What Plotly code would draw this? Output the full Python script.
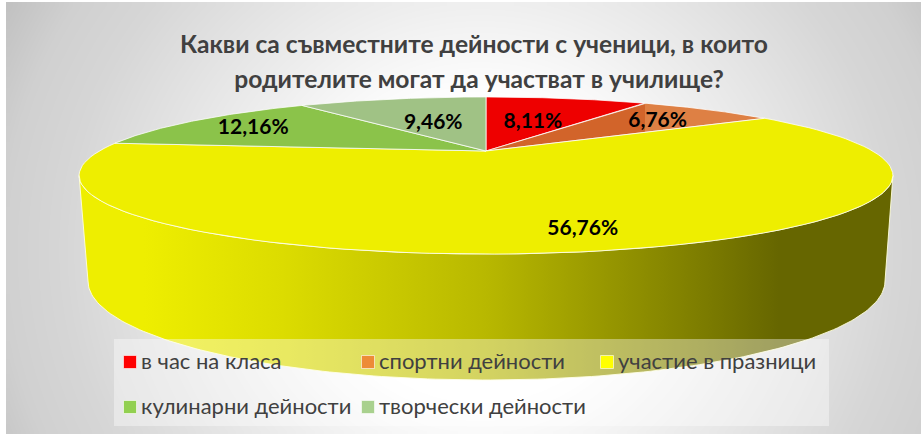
import numpy as np
import plotly.graph_objects as go

categories = ["в час на класа", "спортни дейности", "участие в празници", "кулинарни дейности", "творчески дейности"]
values = [8.11, 6.76, 56.76, 12.16, 9.46]
labels = ["8,11%", "6,76%", "56,76%", "12,16%", "9,46%"]
title_lines = ["Какви са съвместните дейности с ученици, в които", "родителите могат да участват в училище?"]

slice_colors = ["#EE0000", "#D2642A", "#EEEE00", "#8BC34A", "#A0C285"]
swatch_colors = ["#FF0000", "#ED8B37", "#FFFF00", "#92D050", "#A9D18E"]
label_radii = [0.52, 0.74, 0.83, 0.78, 0.5]

W, H = 921, 436
CX, CY, A, B, K = 486.0, 151.0, 386.6, 70.9, 0.312
FONT = "Lato, 'Noto Sans', sans-serif"


def project(theta, r=1.0):
    d = 1 + K * r * np.cos(theta)
    return CX + A * r * np.sin(theta) / d, CY - B * r * np.cos(theta) / d


fig = go.Figure()


def poly(x, y, **kw):
    fig.add_trace(go.Scatter(x=x, y=y, mode="lines", fill="toself", showlegend=False,
                             hoverinfo="skip", **kw))


# background panel (soft light centre falling to grey at the sides)
gx = np.arange(9, W + 1, 6.0)
gy = np.arange(5, H + 1, 6.0)
XX, YY = np.meshgrid(gx, gy)
dist = np.sqrt(((XX - 480) / 520) ** 2 + ((YY - 250) / 500) ** 2)
shade = np.interp(dist, [0, 0.3, 0.5, 0.8, 0.92, 1.05], [255, 255, 238, 214, 208, 191])
fig.add_trace(go.Heatmap(x=gx, y=gy, z=shade, zmin=0, zmax=255, zsmooth="best", showscale=False,
                         hoverinfo="skip", colorscale=[[0, "#000000"], [1, "#FFFFFF"]]))

# side wall
rim = np.arcsin(K)
front = np.linspace(np.pi / 2 + rim, 3 * np.pi / 2 - rim, 200)
tx, ty = project(front)
ex = np.linspace(np.pi, 0, 160)
bot_x = 486.5 + 398.5 * np.cos(ex)
bot_y = 281 + 99 * np.sin(ex)
poly(np.r_[tx, bot_x, tx[0]], np.r_[ty, bot_y, ty[0]],
     line=dict(color="rgba(255,255,220,0.9)", width=1),
     fillgradient=dict(type="horizontal", start=79, stop=893, colorscale=[
         [0, "#EEEE00"], [0.08, "#EEEE00"], [0.25, "#DCDC00"], [0.5, "#B8B800"],
         [0.75, "#808000"], [0.86, "#666600"], [1, "#666600"]]))

# top face slices
fractions = np.array(values) / sum(values)
edges = np.concatenate([[0], np.cumsum(fractions)]) * 2 * np.pi
for i, name in enumerate(categories):
    t = np.linspace(edges[i], edges[i + 1], 100)
    x, y = project(t)
    kw = dict(fillcolor=slice_colors[i])
    if i == 1:
        # the orange slice is two-toned, with the step at its left rim
        lo, hi = CX, x.max()
        f = (x.min() - lo) / (hi - lo)
        kw = dict(fillgradient=dict(type="horizontal", start=lo, stop=hi, colorscale=[
            [0, slice_colors[1]], [f, slice_colors[1]], [f, "#DE8044"], [1, "#DE8044"]]))
    poly(np.r_[CX, x, CX], np.r_[CY, y, CY], line=dict(color="rgba(255,255,255,0.75)", width=1), **kw)

# legend plate
poly([114, 829, 829, 114, 114], [339, 339, 426, 426, 339], line=dict(width=0),
     fillcolor="rgba(255,255,255,0.38)")

# data labels
mids = (edges[:-1] + edges[1:]) / 2
lx, ly = project(mids, np.array(label_radii))
fig.add_trace(go.Scatter(x=lx, y=ly + 2.5, mode="text", text=labels, showlegend=False, hoverinfo="skip",
                         textfont=dict(family=FONT, size=21, color="#000000", weight="bold")))

# legend entries
col_x = [130, 368, 607]
row_y = [362, 407]
leg_x = np.array([col_x[i % 3] for i in range(5)], dtype=float)
leg_y = np.array([row_y[i // 3] for i in range(5)], dtype=float)
fig.add_trace(go.Scatter(x=leg_x, y=leg_y, mode="markers", showlegend=False, hoverinfo="skip",
                         marker=dict(symbol="square", size=13, color=swatch_colors,
                                     line=dict(color="rgba(255,255,255,0.6)", width=1))))
fig.add_trace(go.Scatter(x=leg_x + 11, y=leg_y + 1.5, mode="text", text=categories, textposition="middle right",
                         showlegend=False, hoverinfo="skip",
                         textfont=dict(family=FONT, size=22, color="#404040")))

# title
fig.add_trace(go.Scatter(x=[474, 479], y=[47, 82], mode="text", text=title_lines, showlegend=False,
                         hoverinfo="skip",
                         textfont=dict(family=FONT, size=24.6, color="#404040", weight="bold")))

fig.update_layout(width=W, height=H, margin=dict(l=0, r=0, t=0, b=0), paper_bgcolor="white",
                  plot_bgcolor="white", showlegend=False,
                  xaxis=dict(range=[0, W], visible=False, fixedrange=True),
                  yaxis=dict(range=[H, 0], visible=False, fixedrange=True))
fig.write_html("out.html", config=dict(displayModeBar=False),
               post_script="document.body.style.margin='0';")
